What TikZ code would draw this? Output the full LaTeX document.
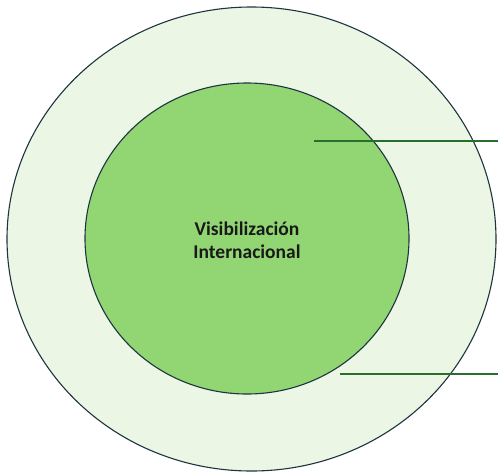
\documentclass[tikz,border=0pt]{standalone}
\usepackage{fontspec}
\setsansfont{Carlito}
\usepackage{tikz}
\usetikzlibrary{shapes.geometric}
\definecolor{ringfill}{RGB}{235,247,228}
\definecolor{corefill}{RGB}{145,214,115}
\definecolor{rimline}{RGB}{30,52,64}
\definecolor{leadline}{RGB}{40,110,45}

\begin{document}
\begin{tikzpicture}[x=1pt, y=-1pt,
    ring/.style={ellipse, draw=rimline, line width=1.1pt, inner sep=0pt},
    lead/.style={leadline, line width=2pt}]
                      \useasboundingbox (0,0) rectangle (498,475);
                      \node[ring, fill=ringfill, minimum width=489pt, minimum height=464pt] (outer) at (251.5,239) {};
                      \node[ring, fill=corefill, minimum width=324pt, minimum height=311pt] (inner) at (247,238.5) {};
                      \node[font=\sffamily\bfseries\fontsize{19.5}{23}\selectfont, align=center, text=black!90] (title) at (247,240) {Visibilización\\Internacional};
                      \coordinate (upA) at (314,141);
                      \coordinate (upB) at (498,141);
                      \coordinate (lowA) at (340,374);
                      \coordinate (lowB) at (498,374);
                      \draw[lead] (upA) -- (upB);
                      \draw[lead] (lowA) -- (lowB);
                  \end{tikzpicture}
\end{document}
